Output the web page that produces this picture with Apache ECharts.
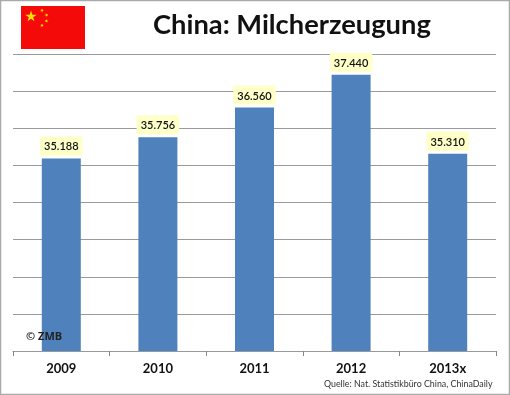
<!DOCTYPE html>
<html><head><meta charset="utf-8">
<style>html,body{margin:0;padding:0;background:#fff}#c{width:510px;height:395px}</style>
<script src="https://cdn.jsdelivr.net/npm/echarts@6/dist/echarts.min.js"></script>
</head><body><div id="c"></div>
<script>
const categories = ['2009','2010','2011','2012','2013x'];
const values = [35188,35756,36560,37440,35310];
const titleText = 'China: Milcherzeugung';
const sourceText = 'Quelle: Nat. Statistikbüro China, ChinaDaily';
const copyrightText = '© ZMB';
const star = (cx,cy,r,rot)=>{const p=[];for(let i=0;i<10;i++){const a=rot+i*Math.PI/5-Math.PI/2;const q=i%2?r*0.382:r;p.push([cx+q*Math.cos(a),cy+q*Math.sin(a)]);}
  return {type:'polygon',shape:{points:p},style:{fill:'#FFE000'},z:11};};
const chart = echarts.init(document.getElementById('c'),null,{renderer:'canvas'});
chart.setOption({
  animation:false,
  title:{text:titleText,left:153,top:12,textStyle:{fontFamily:'Lato',fontWeight:'bold',fontSize:27.3,color:'#111'},padding:0},
  grid:{left:13,right:14,top:54,bottom:44},
  xAxis:{type:'category',data:categories,
    axisLine:{lineStyle:{color:'#999',width:1}},
    axisTick:{show:true,length:5,lineStyle:{color:'#888'}},
    axisLabel:{color:'#111',fontFamily:'Lato',fontWeight:'bold',fontSize:13,margin:11}},
  yAxis:{type:'value',min:30000,max:38000,interval:1000,
    axisLabel:{show:false},axisLine:{show:false},axisTick:{show:false},
    splitLine:{show:true,lineStyle:{color:'#9a9a9a',width:1}}},
  series:[{type:'bar',data:values,barWidth:39,itemStyle:{color:'#4F81BD'},
    label:{show:true,position:'top',distance:3,color:'#111',fontFamily:'Lato',fontSize:11,fontWeight:600,
      backgroundColor:'#FFFFC8',padding:[5,4,3,4],
      formatter:p=>String(p.value).replace(/(\d{2})(\d{3})/,'$1.$2')}}],
  graphic:[
    {type:'rect',shape:{x:0.5,y:0.5,width:509,height:394},style:{fill:'none',stroke:'#aaa',lineWidth:1.5},z:20},
    {type:'rect',shape:{x:21,y:6,width:64,height:43},style:{fill:'#F50A0A'},z:10},
    star(31,16.5,6,0),star(42,10.5,2,0.5),star(46.5,15,2,0.9),star(46.5,21,2,0.2),star(42,25.5,2,0.6),
    {type:'text',x:26,y:331,style:{text:copyrightText,font:'bold 11px "Open Sans"',fill:'#222'},z:12},
    {type:'text',x:324,y:380,style:{text:sourceText,font:'8.85px Lato',fill:'#333'},z:12}
  ]
});
</script></body></html>
